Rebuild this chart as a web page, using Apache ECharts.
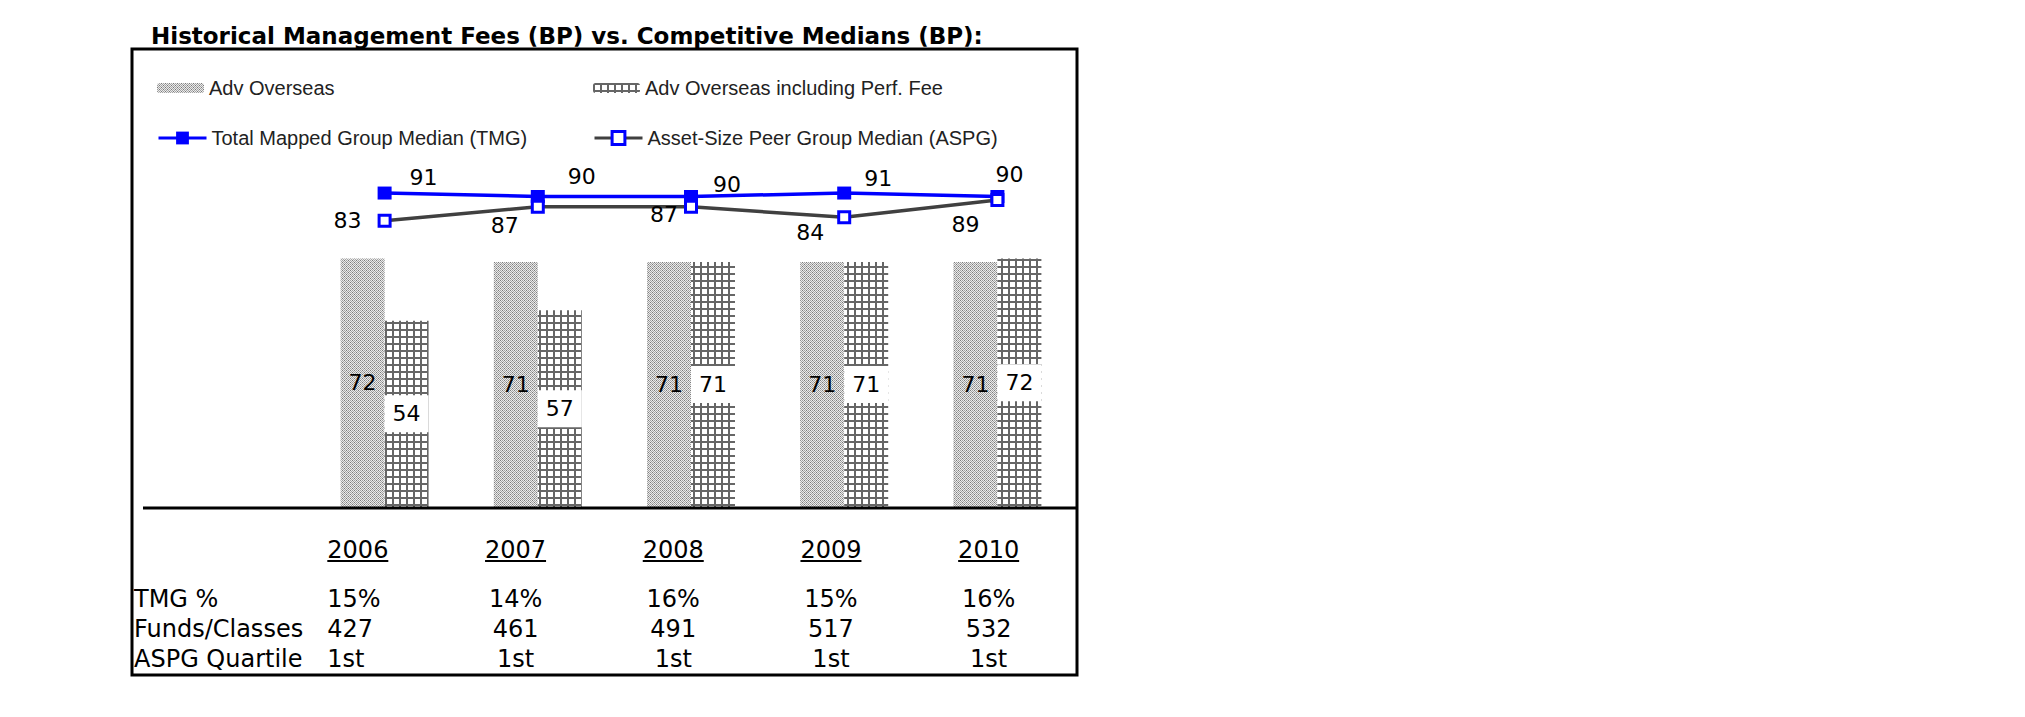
<!DOCTYPE html>
<html><head><meta charset="utf-8">
<script src="https://cdn.jsdelivr.net/npm/echarts@6/dist/echarts.min.js"></script>
<style>html,body{margin:0;padding:0;background:#fff}#c{width:2025px;height:717px}</style>
</head><body><div id="c"></div>
<script>
const titleText = 'Historical Management Fees (BP) vs. Competitive Medians (BP):';
const categories = ['2006', '2007', '2008', '2009', '2010'];
const advOverseas = [72, 71, 71, 71, 71];
const advOverseasPerf = [54, 57, 71, 71, 72];
const tmgMedian = [91, 90, 90, 91, 90];
const aspgMedian = [83, 87, 87, 84, 89];
const tmgPercent = ['15%', '14%', '16%', '15%', '16%'];
const fundsClasses = ['427', '461', '491', '517', '532'];
const aspgQuartile = ['1st', '1st', '1st', '1st', '1st'];
const rowLabels = ['TMG %', 'Funds/Classes', 'ASPG Quartile'];
const seriesNames = ['Adv Overseas', 'Adv Overseas including Perf. Fee',
  'Total Mapped Group Median (TMG)', 'Asset-Size Peer Group Median (ASPG)'];

// label placement (layout only)
const tmgLabelOffsets = [[39, -16], [44, -20], [36, -12], [34, -15], [12, -22]];
const aspgLabelOffsets = [[-37, 0], [-33, 19], [-27, 8], [-34, 15], [-32, 25]];

function makeStipple() {
  const c = document.createElement('canvas'); c.width = 4; c.height = 4;
  const g = c.getContext('2d');
  g.fillStyle = '#ebebeb'; g.fillRect(0, 0, 4, 4);
  g.fillStyle = '#a3a3a3';
  [[0,0],[2,0],[1,1],[3,1],[0,2],[2,2],[1,3],[3,3]].forEach(p => g.fillRect(p[0], p[1], 1, 1));
  g.fillStyle = '#7a7a7a';
  g.fillRect(0, 0, 1, 1); g.fillRect(2, 2, 1, 1);
  return c;
}
function makeHatch() {
  const c = document.createElement('canvas'); c.width = 7; c.height = 7;
  const g = c.getContext('2d');
  g.fillStyle = '#ffffff'; g.fillRect(0, 0, 7, 7);
  g.fillStyle = '#666666';
  g.fillRect(0, 0, 7, 2); g.fillRect(0, 0, 2, 7);
  return c;
}
const stipple = { image: makeStipple(), repeat: 'repeat' };
const hatch = { image: makeHatch(), repeat: 'repeat' };

const FONT = 'DejaVu Sans';
const LFONT = 'Liberation Sans';
const BLUE = '#0000ff';

const chart = echarts.init(document.getElementById('c'), null, { renderer: 'svg' });

function legendItem(name, left, top, extra) {
  return Object.assign({
    data: [name], left: left, top: top, padding: 0, itemGap: 0,
    selectedMode: false,
    textStyle: { fontFamily: LFONT, fontSize: 20, color: '#222' }
  }, extra);
}

const tableRich = {};
['', 'L'].forEach(s => {
  const al = s === 'L' ? 'left' : 'center';
  tableRich['y' + s] = { fontFamily: FONT, fontSize: 24, color: '#000', lineHeight: 20, align: al };
  tableRich['u' + s] = { width: 61, height: 2, backgroundColor: '#000', align: al };
  tableRich['v' + s] = { fontFamily: FONT, fontSize: 24, color: '#000', lineHeight: 30, align: al };
});
tableRich.s = { height: 22 };

const option = {
  animation: false,
  backgroundColor: '#fff',
  legend: [
    legendItem(seriesNames[0], 157, 78, { itemWidth: 47, itemHeight: 10 }),
    legendItem(seriesNames[1], 593, 78, { itemWidth: 47, itemHeight: 10 }),
    legendItem(seriesNames[2], 157, 128, { itemWidth: 48, itemHeight: 16,
      lineStyle: { width: 3, color: BLUE } }),
    legendItem(seriesNames[3], 593, 128, { itemWidth: 48, itemHeight: 16,
      lineStyle: { width: 3, color: '#404040' },
      itemStyle: { color: '#fff', borderColor: BLUE, borderWidth: 3 } })
  ],
  grid: [
    { left: 308, width: 766, top: 162, bottom: 210 },
    { left: 279, width: 788.5, top: 530, height: 2 }
  ],
  xAxis: [
    { type: 'category', gridIndex: 0, data: categories,
      axisLine: { show: false }, axisTick: { show: false }, axisLabel: { show: false } },
    { type: 'category', gridIndex: 1, data: categories,
      axisLine: { show: false }, axisTick: { show: false },
      axisLabel: {
        interval: 0, margin: 8,
        formatter: function (value, idx) {
          const a = idx === 0 ? 'L' : '';
          return '{y' + a + '|' + value + '}\n{u' + a + '|}\n{s|}\n{v' + a + '|' + tmgPercent[idx] +
            '}\n{v' + a + '|' + fundsClasses[idx] + '}\n{v' + a + '|' + aspgQuartile[idx] + '}';
        },
        rich: tableRich
      } }
  ],
  yAxis: [
    { type: 'value', gridIndex: 0, min: 0, max: 100, show: false, splitLine: { show: false } },
    { type: 'value', gridIndex: 1, show: false, splitLine: { show: false } }
  ],
  series: [
    { name: seriesNames[0], type: 'bar', data: advOverseas, barWidth: 44, barGap: '0%',
      itemStyle: { color: stipple },
      label: { show: true, position: 'inside', fontFamily: FONT, fontSize: 22, color: '#000' } },
    { name: seriesNames[1], type: 'bar', data: advOverseasPerf, barWidth: 44,
      itemStyle: { color: hatch },
      label: { show: true, position: 'inside', fontFamily: FONT, fontSize: 22, color: '#000',
        backgroundColor: '#fff', width: 44, height: 37, lineHeight: 37, align: 'center', verticalAlign: 'middle' } },
    { name: seriesNames[2], type: 'line', z: 3,
      data: tmgMedian.map((v, i) => ({ value: v, label: { offset: tmgLabelOffsets[i] } })),
      symbol: 'rect', symbolSize: [14, 13],
      lineStyle: { color: BLUE, width: 3.5 }, itemStyle: { color: BLUE },
      label: { show: true, position: 'inside', fontFamily: FONT, fontSize: 22, color: '#000' } },
    { name: seriesNames[3], type: 'line', z: 4,
      data: aspgMedian.map((v, i) => ({ value: v, label: { offset: aspgLabelOffsets[i] } })),
      symbol: 'rect', symbolSize: 11,
      lineStyle: { color: '#404040', width: 3.5 },
      itemStyle: { color: '#fff', borderColor: BLUE, borderWidth: 3 },
      label: { show: true, position: 'inside', fontFamily: FONT, fontSize: 22, color: '#000' } }
  ],
  graphic: [
    { type: 'text', z: 100, style: { text: titleText, x: 151, y: 36, fill: '#000',
      font: 'bold 23px "DejaVu Sans"', verticalAlign: 'middle' } },
    { type: 'rect', z: 100, shape: { x: 132, y: 49, width: 945, height: 626 },
      style: { fill: 'none', stroke: '#000', lineWidth: 3 } },
    { type: 'line', z: 100, shape: { x1: 143, y1: 508, x2: 1078, y2: 508 },
      style: { stroke: '#000', lineWidth: 3 } }
  ].concat(rowLabels.map((t, i) => ({
    type: 'text', z: 100,
    style: { text: t, x: 134, y: 599 + i * 30, fill: '#000', font: '24px "DejaVu Sans"', verticalAlign: 'middle' }
  })))
};
chart.setOption(option);
</script></body></html>
